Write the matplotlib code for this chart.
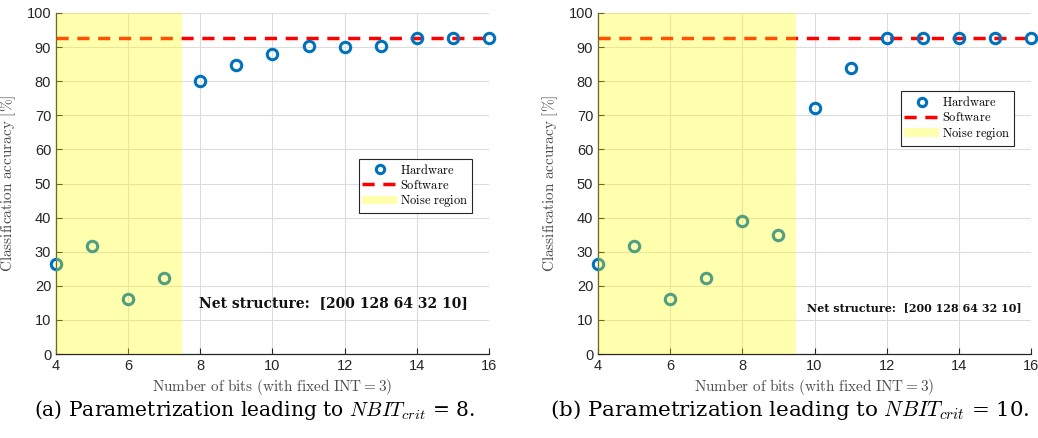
import matplotlib
matplotlib.use("Agg")
import matplotlib.pyplot as plt
from matplotlib.patches import Patch
from matplotlib.lines import Line2D

plt.rcParams['mathtext.fontset'] = 'cm'
plt.rcParams['font.family'] = ['Liberation Sans', 'DejaVu Sans']

bits = [4, 5, 6, 7, 8, 9, 10, 11, 12, 13, 14, 15, 16]
hw_a = [26.3, 31.7, 16.1, 22.3, 80.1, 84.7, 88.1, 90.3, 90.1, 90.4, 92.7, 92.7, 92.7]
hw_b = [26.3, 31.7, 16.1, 22.3, 39.0, 35.0, 72.0, 84.0, 92.7, 92.7, 92.7, 92.7, 92.7]
software = 92.7
noise_a = (4, 7.5)
noise_b = (4, 9.5)
xticks = [4, 6, 8, 10, 12, 14, 16]
yticks = list(range(0, 101, 10))
captions = [r"(a) Parametrization leading to $\mathit{NBIT}_{crit}$ = 8.",
            r"(b) Parametrization leading to $\mathit{NBIT}_{crit}$ = 10."]
net_text = "Net structure:  [200 128 64 32 10]"

fig = plt.figure(figsize=(10.38, 4.38), dpi=100)
ax_a = fig.add_axes([56/1038, 1-354/438, 433/1038, 341/438])
ax_b = fig.add_axes([598/1038, 1-354/438, 433/1038, 341/438])

blue = '#0072BD'
grey = '#4D4D4D'

def draw(ax, hw, noise, legend_pos, net_xy, net_fs, caption, cap_x, cap_fs):
    ax.plot(bits, hw, linestyle='none', marker='o', markersize=7.5,
            markerfacecolor='none', markeredgecolor=blue, markeredgewidth=2.2,
            zorder=3, clip_on=False)
    ax.axhline(software, color='#FF0000', linestyle=(0, (3.5, 2.5)), linewidth=2.5, zorder=2)
    ax.axvspan(noise[0], noise[1], color='#FFFF00', alpha=0.32, linewidth=0, zorder=4)
    ax.set_xlim(4, 16)
    ax.set_ylim(0, 100)
    ax.set_xticks(xticks)
    ax.set_yticks(yticks)
    ax.grid(True, color='#DCDCDC', linewidth=0.8)
    ax.set_axisbelow(True)
    for s in ['top', 'right']:
        ax.spines[s].set_visible(False)
    for s in ['left', 'bottom']:
        ax.spines[s].set_color('#262626')
        ax.spines[s].set_linewidth(0.9)
    ax.tick_params(direction='in', length=4, width=0.8, labelsize=10.5, colors='#262626')
    ax.set_xlabel(r"$\mathrm{Number\ of\ bits\ (with\ fixed\ INT = 3)}$", fontsize=11, color=grey, labelpad=3)
    ax.set_ylabel(r"$\mathrm{Classification\ accuracy\ [\%]}$", fontsize=11, color=grey, labelpad=6)
    handles = [Line2D([], [], linestyle='none', marker='o', markersize=6, markerfacecolor='none',
                      markeredgecolor=blue, markeredgewidth=2.2),
               Line2D([], [], color='#FF0000', linestyle=(0, (3.5, 2.5)), linewidth=2.5),
               Patch(facecolor='#FFFF00', alpha=0.32, edgecolor='none')]
    leg = ax.legend(handles, [r"$\mathrm{Hardware}$", r"$\mathrm{Software}$", r"$\mathrm{Noise\ region}$"],
                    loc='upper left', bbox_to_anchor=legend_pos, fontsize=9, frameon=True,
                    fancybox=False, edgecolor='#262626', framealpha=1, handlelength=2.8,
                    borderpad=0.3, labelspacing=0.15, handletextpad=0.2, borderaxespad=0)
    leg.get_frame().set_linewidth(0.8)
    leg.set_zorder(10)
    ax.text(net_xy[0], net_xy[1], net_text, family='DejaVu Serif', fontweight='bold',
            fontsize=net_fs, color='#111111', ha='left', va='center', zorder=6)
    fig.text(cap_x, 0.063, caption, fontsize=cap_fs, family='DejaVu Serif', ha='center', va='center')

draw(ax_a, hw_a, noise_a, (0.699, 0.572), (7.95, 15.0), 10, captions[0], 254/1038, 14.6)
draw(ax_b, hw_b, noise_b, (0.699, 0.77), (9.8, 13.6), 8.0, captions[1], 790/1038, 15.4)

fig.savefig('out.png', dpi=100)
